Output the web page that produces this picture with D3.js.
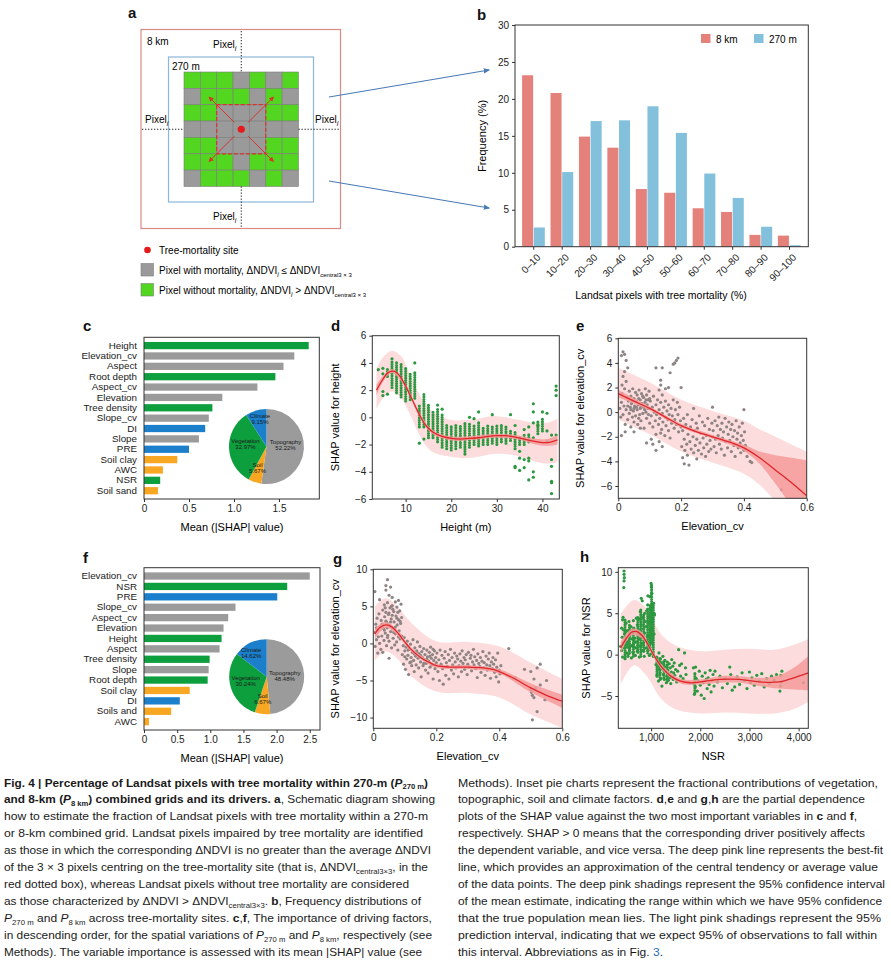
<!DOCTYPE html>
<html>
<head>
<meta charset="utf-8">
<script src="https://cdn.jsdelivr.net/npm/d3@7"></script>
<style>
body { margin: 0; background: #fff; }
svg { display: block; font-family: "Liberation Sans", Arial, sans-serif; }
.tick text { font-size: 10px; fill: #222; }
.domain, .tick line { stroke: #333; }
</style>
</head>
<body>
<svg id="fig" width="891" height="962"></svg>
<script>
// ---------- panel a: 7x7 pixel grid (1 = mortality / grey, 0 = green)
const gridRows = [
  [0,0,0,1,0,1,0],
  [1,0,0,0,1,0,1],
  [0,0,1,1,1,0,0],
  [1,1,1,1,1,1,1],
  [0,0,1,1,1,0,0],
  [0,0,0,1,0,0,0],
  [1,0,0,0,1,0,1]
];

// ---------- panel b: frequency distributions
const binLabels = ["0–10","10–20","20–30","30–40","40–50","50–60","60–70","70–80","80–90","90–100"];
const freq8km  = [23.2, 20.8, 14.9, 13.4, 7.8, 7.3, 5.2, 4.7, 1.6, 1.5];
const freq270m = [2.6, 10.1, 17.0, 17.1, 19.0, 15.4, 9.9, 6.6, 2.7, 0.2];

// ---------- panels c, f: mean |SHAP|
const catC = ["Height","Elevation_cv","Aspect","Root depth","Aspect_cv","Elevation","Tree density","Slope_cv","DI","Slope","PRE","Soil clay","AWC","NSR","Soil sand"];
const shapC = [1.83, 1.67, 1.55, 1.46, 1.26, 0.87, 0.76, 0.72, 0.68, 0.61, 0.50, 0.37, 0.21, 0.18, 0.155];
const groupC = ["veg","topo","topo","veg","topo","topo","veg","topo","clim","topo","clim","soil","soil","veg","soil"];
const catF = ["Elevation_cv","NSR","PRE","Slope_cv","Aspect_cv","Elevation","Height","Aspect","Tree density","Slope","Root depth","Soil clay","DI","Soils and","AWC"];
const shapF = [2.50, 2.16, 2.01, 1.38, 1.27, 1.20, 1.17, 1.14, 0.99, 0.975, 0.96, 0.69, 0.54, 0.41, 0.075];
const groupF = ["topo","veg","clim","topo","topo","topo","veg","topo","veg","topo","veg","soil","clim","soil","soil"];
const pieGroups = ["Topography","Soil","Vegetation","Climate"];
const pieKeys = ["topo","soil","veg","clim"];
const pieC = [52.22, 5.67, 32.97, 9.15];
const pieF = [48.48, 6.67, 30.24, 14.62];

// ---------- panel d: SHAP vs height
const dColumns = [
  [6,3.0,3.6],[7,2.2,4.2],[8,1.8,4.1],[9,1.5,3.9],[10,1.2,3.7],[11,1.3,3.3],[12,1.4,3.4],
  [13,-0.7,0.9],[14,-0.7,1.7],[15,-1.5,1.0],[16,-1.5,0.5],[17,-1.8,0.7],[18,-2.2,0.2],
  [19,-2.3,-0.5],[20,-2.4,-0.6],[21,-2.3,-0.5],[22,-2.2,-0.6],[23,-2.5,-0.4],[24,-2.2,-0.4],
  [25,-2.0,-0.5],[26,-2.1,-0.4],[27,-2.0,-0.7],[28,-2.0,-0.6],[29,-1.9,-0.6],[30,-2.0,-0.5],
  [31,-1.8,-0.6],[32,-1.9,-0.7],[33,-1.7,-0.9],[34,-2.3,-1.0],[35,-2.0,-1.4],[36,-2.0,-1.2],
  [37,-1.8,-1.2],[39,-1.2,-0.2],[40,-1.0,-0.1]
];
const dPoints = [
  [4,3.5],[5,3.6],[5,3.2],[5,1.9],[5,1.6],[6,1.7],[7,4.3],[12,4.0],[13,-1.9],[14,-1.6],
  [17,0.9],[18,0.6],[24,0.0],[25,-0.1],[26,0.4],[23,-2.7],[29,0.2],[33,0.2],[34,-0.6],
  [34,-3.6],[34,-3.7],[35,-2.5],[35,-3.0],[35,-3.9],[36,-3.1],[36,-3.7],[37,-3.0],[37,-3.2],
  [37,-4.6],[38,1.0],[38,0.4],[38,-0.4],[38,-4.0],[38,-4.4],[38,-1.5],[39,-0.6],[40,0.4],
  [41,0.3],[41,-1.8],[41,-1.0],[42,-1.3],[42,-3.1],[42,-3.6],[42,-4.7],[42,-4.8],[42,-5.6],
  [43,2.3],[43,2.0],[43,1.6],[43,-1.3],[36,-0.9],[37,-0.7]
];
const dFit = [[3.6,2.0],[5,2.8],[6,3.25],[7,3.4],[8,3.3],[9,2.9],[10,2.3],[11,1.6],[12,0.9],[13,0.2],[14,-0.4],[15,-0.8],[16,-1.1],[18,-1.4],[20,-1.55],[22,-1.6],[24,-1.55],[26,-1.5],[28,-1.4],[30,-1.35],[32,-1.35],[34,-1.45],[36,-1.6],[38,-1.75],[40,-1.85],[41,-1.85],[42,-1.8],[43.3,-1.65]];
const dConf = [[3.6,1.6,2.4],[5,2.6,3.0],[7,3.25,3.55],[10,2.15,2.45],[13,0.05,0.35],[16,-1.25,-0.95],[20,-1.7,-1.4],[25,-1.65,-1.35],[30,-1.5,-1.2],[35,-1.65,-1.35],[38,-1.95,-1.55],[41,-2.1,-1.6],[43.3,-2.0,-1.3]];
const dPred = [[3.6,0.6,3.6],[5,1.4,4.4],[7,1.9,4.9],[9,1.4,4.5],[11,0.2,3.1],[13,-1.3,1.7],[15,-2.3,0.7],[17,-2.7,0.2],[20,-2.9,-0.2],[23,-3.0,-0.2],[26,-2.9,-0.1],[29,-2.7,0.1],[32,-2.7,0.0],[35,-2.9,-0.2],[38,-3.2,-0.4],[41,-3.4,-0.4],[43.3,-3.3,-0.1]];

// ---------- panel e: SHAP vs elevation_cv (P270m)
const ePoints = [
  [0.005,0.3],[0.008,-0.4],[0.01,0.8],[0.012,1.5],[0.015,-0.2],[0.018,0.5],[0.02,1.9],[0.022,-1.0],[0.025,0.2],[0.028,1.2],
  [0.03,-0.6],[0.032,0.9],[0.035,1.7],[0.035,-0.1],[0.038,0.4],[0.04,1.3],[0.04,-1.2],[0.042,0.7],[0.045,-0.4],[0.046,1.9],
  [0.048,0.1],[0.05,1.1],[0.05,-0.8],[0.052,0.5],[0.055,1.6],[0.055,-0.3],[0.058,0.9],[0.06,0.2],[0.06,1.4],[0.062,-1.0],
  [0.064,0.6],[0.066,1.8],[0.068,-0.2],[0.07,1.0],[0.07,0.3],[0.072,-0.7],[0.074,1.5],[0.075,0.7],[0.078,-0.1],[0.08,1.2],
  [0.08,0.4],[0.082,-1.3],[0.085,0.8],[0.086,1.9],[0.088,0.0],[0.09,1.4],[0.09,-0.5],[0.092,0.6],[0.095,1.0],[0.096,-0.2],
  [0.098,1.7],[0.1,0.3],[0.1,-0.9],[0.03,0.5],[0.045,0.9],[0.058,0.4],[0.065,1.1],[0.072,0.5],[0.078,1.3],[0.084,0.2],
  [0.088,1.0],[0.094,0.3],[0.065,-0.5],[0.04,0.2],[0.05,0.3],[0.1,1.1],
  [0.01,4.6],[0.015,4.9],[0.02,4.7],[0.025,4.2],[0.03,3.6],[0.02,3.3],[0.015,2.9],[0.012,2.2],[0.025,2.5],[0.01,-1.9],
  [0.022,-1.6],[0.05,-1.6],[0.07,-1.3],[0.09,-2.5],[0.105,-2.2],
  [0.102,0.9],[0.105,-0.3],[0.108,0.4],[0.11,-1.2],[0.112,1.3],[0.115,0.0],[0.118,-0.7],[0.12,0.6],[0.12,-1.8],[0.122,-0.2],
  [0.125,1.0],[0.128,-1.0],[0.13,0.2],[0.13,-2.4],[0.132,-0.5],[0.135,0.8],[0.138,-1.4],[0.14,-0.1],[0.14,1.4],[0.142,-0.8],
  [0.145,0.4],[0.148,-1.9],[0.15,-0.4],[0.15,0.9],[0.152,-1.1],[0.155,0.1],[0.158,-0.6],[0.16,-1.5],[0.16,0.6],[0.162,-0.2],
  [0.165,-2.1],[0.168,0.3],[0.17,-0.9],[0.172,-0.3],[0.175,1.0],[0.178,-1.3],[0.18,-0.6],[0.182,0.2],[0.185,-1.0],[0.188,0.8],
  [0.19,-0.2],[0.192,-1.6],[0.195,0.4],[0.198,-0.7],[0.2,-1.2],[0.12,-3.1],[0.14,-2.8],[0.11,-2.6],[0.135,-1.7],
  [0.12,3.6],[0.14,3.6],[0.135,2.6],[0.135,2.2],[0.13,1.8],[0.175,3.9],[0.18,4.0],[0.185,4.2],[0.19,4.4],[0.165,3.2],
  [0.16,2.0],[0.15,1.9],[0.2,2.0],
  [0.202,-2.8],[0.205,-1.5],[0.205,-3.7],[0.208,-0.5],[0.21,-2.2],[0.21,-4.2],[0.212,-3.1],[0.215,-1.0],[0.218,-2.6],[0.22,-3.5],
  [0.22,-0.2],[0.222,-1.8],[0.225,-4.3],[0.228,-2.4],[0.23,-1.2],[0.232,-3.0],[0.235,-0.6],[0.238,-2.0],[0.24,-3.3],[0.24,0.3],
  [0.242,-1.5],[0.245,-2.7],[0.248,-0.9],[0.25,-3.8],[0.25,-2.2],[0.252,-1.3],[0.255,-3.1],[0.258,-0.3],[0.26,-2.5],[0.262,-1.7],
  [0.265,-3.4],[0.268,-0.8],[0.27,-2.1],[0.272,-2.9],[0.275,-1.1],[0.278,-3.6],[0.28,-1.9],[0.282,-2.6],[0.285,-0.5],[0.288,-3.2],
  [0.29,-1.4],[0.292,-2.3],[0.295,-3.0],[0.298,-0.9],[0.3,-2.0],[0.3,0.4],
  [0.302,-1.5],[0.305,-2.8],[0.308,-0.7],[0.31,-2.2],[0.312,-3.3],[0.315,-1.1],[0.318,-1.9],[0.32,-0.4],[0.322,-2.6],[0.325,-1.4],
  [0.328,-3.0],[0.33,-0.9],[0.332,-2.1],[0.335,-1.6],[0.338,-3.5],[0.34,-0.5],[0.342,-2.4],[0.345,-1.2],[0.348,-2.9],[0.35,-1.8],
  [0.352,-0.8],[0.355,-2.3],[0.358,-1.4],[0.36,-3.2],[0.362,-1.0],[0.365,-2.0],[0.368,-2.7],[0.37,-1.5],[0.372,-3.6],[0.375,-0.7],
  [0.378,-2.2],[0.38,-1.7],[0.382,-2.9],[0.385,-1.2],[0.388,-2.5],[0.39,-3.3],[0.392,-1.9],[0.395,-0.9],[0.398,-2.3],[0.4,0.2],
  [0.4,-3.1],[0.402,-1.6],[0.405,-2.7],[0.41,-3.6],[0.42,-4.0],[0.425,-4.1],[0.52,-6.3]
];
const eFit = [[0,1.5],[0.05,0.9],[0.1,0.3],[0.15,-0.4],[0.2,-1.1],[0.25,-1.6],[0.3,-2.0],[0.35,-2.4],[0.4,-2.9],[0.45,-3.7],[0.5,-4.7],[0.55,-5.7],[0.6,-6.8]];
const eConf = [[0,1.2,1.8],[0.1,0.15,0.45],[0.2,-1.25,-0.95],[0.3,-2.15,-1.85],[0.4,-3.15,-2.65],[0.45,-4.2,-3.2],[0.5,-5.8,-3.5],[0.55,-7.6,-3.7],[0.6,-9.5,-3.9]];
const ePred = [[0,-0.6,3.6],[0.1,-1.8,2.4],[0.2,-3.2,1.0],[0.3,-4.1,0.1],[0.4,-5.0,-0.7],[0.45,-5.9,-1.4],[0.5,-7.2,-2.0],[0.55,-8.5,-2.6],[0.6,-10,-3.2]];

// ---------- panel g: SHAP vs elevation_cv (P8km)
const gPoints = [
  [0.003,1.5],[0.005,7.0],[0.006,-0.4],[0.008,2.6],[0.01,0.5],[0.012,3.4],[0.014,-1.3],[0.015,1.8],[0.018,4.0],[0.02,0.0],
  [0.02,5.9],[0.022,2.3],[0.024,-0.8],[0.025,3.1],[0.027,1.0],[0.03,4.5],[0.03,-1.2],[0.032,2.0],[0.034,0.4],[0.035,5.2],
  [0.036,3.6],[0.038,1.4],[0.04,7.2],[0.04,7.8],[0.04,4.2],[0.042,-0.3],[0.043,2.8],[0.045,8.6],[0.045,5.5],[0.046,1.1],
  [0.048,3.9],[0.05,0.3],[0.05,6.5],[0.05,-2.0],[0.052,2.4],[0.053,4.8],[0.055,7.6],[0.055,1.6],[0.057,3.3],[0.058,-0.6],
  [0.06,5.1],[0.06,6.2],[0.062,2.0],[0.063,0.7],[0.065,4.3],[0.066,2.9],[0.068,-0.2],[0.07,5.6],[0.07,1.3],[0.072,3.7],
  [0.074,0.2],[0.075,4.9],[0.076,2.5],[0.078,-0.9],[0.08,3.2],[0.08,5.8],[0.082,1.7],[0.084,4.4],[0.085,0.6],[0.087,2.7],
  [0.088,5.3],[0.09,1.0],[0.09,3.5],
  [0.035,1.8],[0.04,3.0],[0.045,0.8],[0.05,4.1],[0.055,2.9],[0.06,3.8],[0.065,1.5],[0.07,2.2],[0.075,3.4],[0.08,0.9],
  [0.085,3.0],[0.044,2.1],[0.062,4.6],[0.078,4.2],[0.058,5.0],[0.038,4.8],[0.028,2.6],[0.016,0.9],[0.01,2.1],
  [0.092,-1.5],[0.095,-0.3],[0.096,-2.8],[0.098,0.8],[0.1,-1.0],[0.102,-3.5],[0.104,-0.5],[0.106,-2.1],[0.108,0.3],[0.11,-1.6],
  [0.112,-4.2],[0.114,-0.8],[0.116,-2.6],[0.118,-0.1],[0.12,-1.9],[0.122,-3.0],[0.124,-1.2],[0.126,0.5],[0.128,-2.3],[0.13,-3.8],
  [0.132,-0.6],[0.134,-1.7],[0.136,-2.9],[0.138,-1.0],[0.14,0.2],[0.142,-2.0],[0.144,-3.3],[0.146,-1.4],[0.148,-0.4],[0.15,-2.5],
  [0.152,-4.5],[0.154,-1.1],[0.156,-1.9],[0.158,-3.0],[0.16,-0.7],[0.162,-2.2],[0.164,-1.5],[0.166,-3.6],[0.168,-2.7],[0.17,-0.9],
  [0.172,-1.8],[0.174,-4.0],[0.176,-2.4],[0.178,-1.2],[0.18,-3.2],[0.182,-0.5],[0.184,-2.0],[0.186,-2.9],[0.188,-1.5],[0.19,-4.8],
  [0.192,-2.3],[0.194,-1.0],[0.196,-3.4],[0.198,-1.9],[0.2,-2.6],
  [0.1,-1.8],[0.12,-2.5],[0.14,-1.3],[0.16,-2.7],[0.18,-1.7],[0.11,-0.9],[0.13,-1.4],[0.15,-1.6],[0.17,-2.1],[0.19,-0.8],
  [0.202,-1.3],[0.205,-3.8],[0.208,-2.2],[0.21,-5.0],[0.212,-0.9],[0.215,-2.8],[0.218,-1.6],[0.22,-3.4],[0.222,-5.5],[0.225,-2.0],
  [0.228,-1.1],[0.23,-4.3],[0.232,-2.6],[0.235,-3.1],[0.238,-1.5],[0.24,-4.8],[0.242,-2.3],[0.245,-0.8],[0.248,-3.6],[0.25,-1.9],
  [0.252,-2.9],[0.255,-4.1],[0.258,-1.3],[0.26,-2.5],[0.262,-3.3],[0.265,-1.7],[0.268,-2.1],[0.27,-4.5],[0.272,-3.0],[0.275,-1.4],
  [0.278,-2.4],[0.28,-3.8],[0.282,-1.0],[0.285,-2.7],[0.288,-1.9],[0.29,-3.5],[0.292,-2.2],[0.295,-1.5],[0.298,-4.2],[0.3,-2.8],
  [0.302,-1.2],[0.305,-3.2],[0.308,-2.0],[0.31,-1.6],[0.312,-3.7],[0.315,-2.5],[0.318,-0.8],[0.32,-2.9],[0.322,-1.8],[0.325,-3.4],
  [0.328,-2.3],[0.33,-4.6],[0.332,-1.4],[0.335,-2.7],[0.338,-3.1],[0.34,-1.9],[0.342,-3.9],[0.345,-2.4],[0.348,-1.1],[0.35,-3.3],
  [0.352,-2.6],[0.355,-4.3],[0.358,-1.7],[0.36,-2.9],[0.362,-3.6],[0.365,-2.1],[0.368,-1.3],[0.37,-3.0],[0.372,-4.7],[0.375,-2.5],
  [0.378,-3.4],[0.38,-1.9],[0.382,-2.8],[0.385,-3.9],[0.388,-2.2],[0.39,-4.5],[0.392,-3.2],[0.395,-1.3],[0.398,-5.2],[0.4,-3.6],
  [0.402,-4.1],[0.405,-3.0],
  [0.43,-0.7],[0.45,-4.6],[0.48,-3.5],[0.5,-3.8],[0.52,-3.3],[0.53,-2.8],[0.51,-4.8],[0.55,-5.0],[0.5,-6.2],[0.502,-6.6],
  [0.505,-7.0],[0.51,-7.3],[0.52,-9.2],[0.505,-10.3],[0.545,-7.6],[0.53,-5.6],[0.515,-6.0]
];
const gFit = [[0.005,1.3],[0.02,2.1],[0.04,2.5],[0.06,2.2],[0.08,1.3],[0.1,0.2],[0.12,-0.8],[0.15,-1.9],[0.18,-2.6],[0.2,-3.0],[0.25,-3.2],[0.3,-3.2],[0.35,-3.3],[0.38,-3.5],[0.4,-3.8],[0.45,-4.8],[0.5,-6.0],[0.55,-7.0],[0.6,-7.8]];
const gConf = [[0.005,0.6,2.0],[0.04,2.1,2.9],[0.08,0.95,1.65],[0.12,-1.1,-0.5],[0.2,-3.25,-2.75],[0.3,-3.45,-2.95],[0.4,-4.1,-3.5],[0.5,-6.6,-5.4],[0.6,-8.7,-6.9]];
const gPred = [[0.005,-2.3,5.0],[0.04,-1.1,6.1],[0.08,-2.2,4.8],[0.12,-4.4,2.8],[0.2,-6.5,0.3],[0.3,-6.7,0.2],[0.4,-7.3,-0.4],[0.5,-9.6,-2.6],[0.6,-11.4,-4.8]];

// ---------- panel h: SHAP vs NSR
const hColumns = [
  [470,-0.3,4.2],[560,0.2,3.6],[640,-0.2,3.4],[730,0.3,4.6],[790,-0.2,5.4],[850,0.6,4.8],
  [930,0.2,5.6],[980,0.9,6.2],[1010,1.4,8.4],[1045,-0.2,6.0],[1120,-2.6,-0.2],[1180,-3.0,-0.4],
  [1260,-2.8,-0.6],[1330,-3.2,-1.0],[1890,-4.6,-2.4]
];
const hPoints = [
  [450,10.1],[450,9.7],[455,9.3],[450,8.9],[445,8.1],[400,3.2],[380,1.0],[420,4.2],[430,4.5],
  [400,0.5],[410,2.1],[420,-0.3],[430,1.4],[440,3.0],[450,0.8],[460,2.5],[470,-0.5],[480,1.8],[490,3.8],
  [500,0.2],[510,1.2],[520,2.9],[530,-0.2],[540,1.6],[550,4.0],[560,0.6],[570,2.3],[580,1.0],[590,3.4],
  [600,-0.4],[610,1.9],[620,2.7],[630,0.3],[640,1.3],[650,3.2],[660,0.9],[670,2.0],[680,-0.1],[690,1.5],
  [700,4.4],[710,2.6],[720,0.4],[730,1.1],[740,3.0],[750,1.9],[760,-0.3],[770,2.4],[780,5.2],[790,1.0],
  [800,6.8],[800,3.6],[810,0.5],[820,2.1],[820,6.5],[830,4.5],[840,1.4],[850,3.1],[860,-0.2],[870,2.6],
  [880,4.0],[890,0.8],[900,1.7],[900,3.4],
  [500,1.5],[550,2.0],[600,1.1],[650,1.7],[700,0.8],[750,2.8],[800,1.2],[850,0.4],[580,3.0],[720,3.6],
  [640,4.1],[760,4.3],[870,5.0],[520,0.9],[480,2.7],[540,0.1],
  [910,5.3],[920,2.2],[930,6.0],[940,0.5],[950,3.8],[960,1.4],[970,4.6],[975,7.0],[980,2.7],[990,5.5],
  [1000,0.1],[1000,8.6],[1005,8.2],[1010,3.2],[1015,7.4],[1020,1.8],[1030,5.8],[1040,4.3],[1050,-0.2],[1060,5.0],
  [1060,2.5],[1070,4.8],[1050,6.2],[935,7.1],[990,3.0],[1025,4.0],[955,2.3],[965,-0.1],
  [1100,-1.2],[1110,-0.3],[1120,-2.5],[1130,-0.8],[1140,-1.8],[1150,-3.2],[1160,0.2],[1170,-1.4],[1180,-2.2],[1190,-0.5],
  [1200,-2.9],[1210,-1.0],[1220,-3.8],[1230,-1.7],[1240,-0.2],[1250,-2.4],[1260,-1.2],[1270,-3.0],[1280,-0.7],[1290,-2.0],
  [1300,-1.5],[1310,-3.4],[1320,-2.6],[1330,-0.9],[1340,-1.9],[1350,-3.1],[1360,-2.3],[1370,-1.1],[1380,-2.8],[1390,-1.6],
  [1400,-3.5],[1410,-2.1],[1420,-0.6],[1430,-2.7],[1440,-1.4],[1450,-3.0],[1460,-2.2],[1470,-1.0],[1480,-2.5],[1500,-1.8],
  [1520,-3.3],[1540,-2.0],[1560,0.6],[1580,-1.3],[1600,-2.6],[1620,-1.1],[1650,-2.9],[1680,0.2],[1700,-1.6],[1710,-2.4],
  [1860,-1.6],[1870,-3.5],[1880,-4.8],[1890,-2.3],[1900,-3.9],[1905,-1.5],[1920,-2.9],[1940,-4.4],[1960,-3.2],[1980,-2.0],
  [2000,-3.7],[2020,-4.9],[2040,-2.6],[2060,-3.4],[2080,-5.3],[2100,-2.2],[2120,-3.0],[2140,-4.1],[2160,-2.8],[2180,-3.6],
  [2200,-1.9],[2220,-4.5],[2240,-3.1],[2260,-2.4],[2280,-3.8],[2300,-2.0],
  [2350,-3.3],[2400,-2.6],[2450,-4.0],[2500,-2.9],[2550,-3.5],[2600,-1.5],[2620,-2.4],[2650,-4.3],[2700,-3.9],[2750,-2.7],
  [2800,-3.6],[2850,-2.2],[2900,-3.1],[2950,-4.1],[3000,-2.1],[3020,-3.4],[3050,-2.8],[3100,-3.7],[3150,-2.5],[3200,-3.2],
  [3250,-2.3],[3300,-3.9],[3350,-2.9],[3400,-3.5],[3450,-2.6],[3500,-3.1],[3550,-2.4],[3620,-4.4],[3630,-3.8],[3640,-2.5],
  [3650,-3.3],[3660,-2.0],[4100,-3.4]
];
const hFit = [[380,0.8],[500,2.0],[600,2.7],[700,2.8],[800,2.4],[900,1.6],[1000,0.5],[1100,-0.5],[1200,-1.4],[1400,-2.6],[1600,-3.2],[1800,-3.4],[2000,-3.3],[2400,-3.0],[2800,-3.0],[3200,-3.3],[3600,-3.3],[3800,-3.0],[4000,-2.6],[4200,-2.2]];
const hConf = [[380,0.1,1.5],[600,2.3,3.1],[800,2.0,2.8],[1000,0.2,0.8],[1200,-1.7,-1.1],[1600,-3.5,-2.9],[2000,-3.6,-3.0],[2400,-3.4,-2.6],[2800,-3.4,-2.6],[3200,-3.8,-2.8],[3600,-4.1,-2.5],[3900,-4.2,-1.6],[4200,-4.3,-0.2]];
const hPred = [[380,-3.6,4.9],[650,-1.3,6.6],[900,-2.5,5.6],[1200,-5.3,2.5],[1500,-6.6,1.1],[2000,-7.1,0.4],[2500,-7.0,0.6],[3000,-7.1,0.7],[3500,-7.1,0.6],[3900,-6.6,1.2],[4200,-5.7,1.9]];

// ---------- caption lines (segments: t text, b bold, i italic, s subscript, c colour)
const captionLeft = [
  [{t:"Fig. 4 | Percentage of Landsat pixels with tree mortality within 270-m (",b:1},{t:"P",b:1,i:1},{t:"270 m",b:1,s:1},{t:")",b:1}],
  [{t:"and 8-km (",b:1},{t:"P",b:1,i:1},{t:"8 km",b:1,s:1},{t:") combined grids and its drivers. a",b:1},{t:", Schematic diagram showing"}],
  [{t:"how to estimate the fraction of Landsat pixels with tree mortality within a 270-m"}],
  [{t:"or 8-km combined grid. Landsat pixels impaired by tree mortality are identified"}],
  [{t:"as those in which the corresponding ΔNDVI is no greater than the average ΔNDVI"}],
  [{t:"of the 3 × 3 pixels centring on the tree-mortality site (that is, ΔNDVI"},{t:"central3×3",s:1},{t:", in the"}],
  [{t:"red dotted box), whereas Landsat pixels without tree mortality are considered"}],
  [{t:"as those characterized by ΔNDVI > ΔNDVI"},{t:"central3×3",s:1},{t:". "},{t:"b",b:1},{t:", Frequency distributions of"}],
  [{t:"P",i:1},{t:"270 m",s:1},{t:" and "},{t:"P",i:1},{t:"8 km",s:1},{t:" across tree-mortality sites. "},{t:"c",b:1},{t:","},{t:"f",b:1},{t:", The importance of driving factors,"}],
  [{t:"in descending order, for the spatial variations of "},{t:"P",i:1},{t:"270 m",s:1},{t:" and "},{t:"P",i:1},{t:"8 km",s:1},{t:", respectively (see"}],
  [{t:"Methods). The variable importance is assessed with its mean |SHAP| value (see"}]
];
const captionLeftEnd = [428, 435, 428, 423, 431, 428, 409, 421, 432, 432, 422];
const captionRight = [
  [{t:"Methods). Inset pie charts represent the fractional contributions of vegetation,"}],
  [{t:"topographic, soil and climate factors. "},{t:"d",b:1},{t:","},{t:"e",b:1},{t:" and "},{t:"g",b:1},{t:","},{t:"h",b:1},{t:" are the partial dependence"}],
  [{t:"plots of the SHAP value against the two most important variables in "},{t:"c",b:1},{t:" and "},{t:"f",b:1},{t:","}],
  [{t:"respectively. SHAP > 0 means that the corresponding driver positively affects"}],
  [{t:"the dependent variable, and vice versa. The deep pink line represents the best-fit"}],
  [{t:"line, which provides an approximation of the central tendency or average value"}],
  [{t:"of the data points. The deep pink shadings represent the 95% confidence interval"}],
  [{t:"of the mean estimate, indicating the range within which we have 95% confidence"}],
  [{t:"that the true population mean lies. The light pink shadings represent the 95%"}],
  [{t:"prediction interval, indicating that we expect 95% of observations to fall within"}],
  [{t:"this interval. Abbreviations as in Fig. "},{t:"3",c:"#2a6ebb"},{t:"."}]
];
const captionRightEnd = [878, 865, 857, 865, 883, 878, 885, 882, 881, 877, 663];

// ---------- colours
const groupColor = {veg: "#0d9e3e", topo: "#9b9b9b", clim: "#1b7fcb", soil: "#f8a723"};
const red8 = "#e5817b", blue270 = "#82c0dc";
const greenPt = "#2b983f", greyPt = "#8f8484";
const fitRed = "#e0262a", confPink = "#f59a9a", predPink = "#fcdcdc";

const svg = d3.select("#fig");

function panelLabel(t, x, y) {
  svg.append("text").attr("x", x).attr("y", y).text(t)
    .style("font-weight", "bold").style("font-size", "15px").style("fill", "#111");
}

// ================= panel a =================
panelLabel("a", 128, 18);
svg.append("rect").attr("x", 141).attr("y", 29.5).attr("width", 199.5).attr("height", 199)
  .attr("fill", "none").attr("stroke", "#d98a85").attr("stroke-width", 1.2);
svg.append("rect").attr("x", 168.5).attr("y", 57).attr("width", 145).attr("height", 145)
  .attr("fill", "none").attr("stroke", "#8db7d8").attr("stroke-width", 1.2);
svg.append("text").attr("x", 147).attr("y", 45).text("8 km").style("font-size", "10px");
svg.append("text").attr("x", 172).attr("y", 70).text("270 m").style("font-size", "10px");

const gx = d3.scaleBand().domain(d3.range(7)).range([184, 298.5]);
const gy = d3.scaleBand().domain(d3.range(7)).range([72, 186.5]);
const cells = [];
gridRows.forEach((row, r) => row.forEach((v, c) => cells.push({r, c, v})));
svg.append("g").selectAll("rect").data(cells).join("rect")
  .attr("x", d => gx(d.c)).attr("y", d => gy(d.r))
  .attr("width", gx.bandwidth()).attr("height", gy.bandwidth())
  .attr("fill", d => d.v ? "#9a9a9a" : "#52d61f")
  .attr("stroke", "#7d7d7d").attr("stroke-width", 0.6);

// dotted pixel lines
const cx0 = gx(3) + gx.bandwidth() / 2, cy0 = gy(3) + gy.bandwidth() / 2;
const dotted = [[cx0, 31, cx0, 72], [cx0, 186.5, cx0, 228], [142, cy0, 184, cy0], [298.5, cy0, 340, cy0]];
svg.append("g").selectAll("line").data(dotted).join("line")
  .attr("x1", d => d[0]).attr("y1", d => d[1]).attr("x2", d => d[2]).attr("y2", d => d[3])
  .attr("stroke", "#222").attr("stroke-width", 1).attr("stroke-dasharray", "1.3,1.7");

function pixelLabel(x, y) {
  const t = svg.append("text").attr("x", x).attr("y", y).style("font-size", "10px");
  t.append("tspan").text("Pixel");
  t.append("tspan").text("i").attr("dy", 2.5).style("font-size", "7px").style("font-style", "italic");
}
pixelLabel(213, 48);
pixelLabel(145, 123);
pixelLabel(315, 123);
pixelLabel(213, 220);

// central 3x3 dashed box and arrows
svg.append("rect").attr("x", gx(2)).attr("y", gy(2)).attr("width", gx.bandwidth() * 3).attr("height", gy.bandwidth() * 3)
  .attr("fill", "none").attr("stroke", "#d9342a").attr("stroke-width", 1.2).attr("stroke-dasharray", "4,2");
svg.append("defs").html(
  '<marker id="ahr" viewBox="0 0 10 10" refX="8" refY="5" markerWidth="5" markerHeight="5" orient="auto"><path d="M0,0L10,5L0,10z" fill="#d9342a"/></marker>' +
  '<marker id="ahb" viewBox="0 0 10 10" refX="8" refY="5" markerWidth="6" markerHeight="6" orient="auto"><path d="M0,1L10,5L0,9z" fill="#4a7bb6"/></marker>');
[[-1,-1],[1,-1],[-1,1],[1,1]].forEach(([sx, sy]) => {
  svg.append("line").attr("x1", cx0 + sx * 7).attr("y1", cy0 + sy * 7)
    .attr("x2", cx0 + sx * 32).attr("y2", cy0 + sy * 32)
    .attr("stroke", "#d9342a").attr("stroke-width", 1).attr("marker-end", "url(#ahr)");
});
svg.append("circle").attr("cx", cx0).attr("cy", cy0).attr("r", 3.6).attr("fill", "#e41a1c");

// legend of panel a
svg.append("circle").attr("cx", 147.5).attr("cy", 250).attr("r", 3.3).attr("fill", "#e41a1c");
svg.append("text").attr("x", 159).attr("y", 254).text("Tree-mortality site").style("font-size", "10px");
svg.append("rect").attr("x", 141).attr("y", 263.5).attr("width", 12.5).attr("height", 12.5).attr("fill", "#9a9a9a").attr("stroke", "#7d7d7d").attr("stroke-width", 0.6);
svg.append("rect").attr("x", 141).attr("y", 283.5).attr("width", 12.5).attr("height", 12.5).attr("fill", "#52d61f").attr("stroke", "#7d7d7d").attr("stroke-width", 0.6);
function legendLine(y, main, op) {
  const t = svg.append("text").attr("x", 159).attr("y", y).style("font-size", "10px");
  t.append("tspan").text(main + ", ΔNDVI");
  t.append("tspan").text("i").attr("dy", 2.5).style("font-size", "6.5px").style("font-style", "italic");
  t.append("tspan").text(" " + op + " ΔNDVI").attr("dy", -2.5);
  t.append("tspan").text("central3 × 3").attr("dy", 2.5).style("font-size", "6px");
}
legendLine(274, "Pixel with mortality", "≤");
legendLine(294, "Pixel without mortality", ">");

// blue arrows to panel b
[[329, 97, 489, 70], [329, 181, 489, 208]].forEach(a => {
  svg.append("line").attr("x1", a[0]).attr("y1", a[1]).attr("x2", a[2]).attr("y2", a[3])
    .attr("stroke", "#4a7bb6").attr("stroke-width", 1.1).attr("marker-end", "url(#ahb)");
});

// ================= panel b =================
panelLabel("b", 477, 20);
const bx = d3.scaleBand().domain(binLabels).range([515, 808.3]).paddingInner(0.18).paddingOuter(0.25);
const bsub = d3.scaleBand().domain(["8 km", "270 m"]).range([0, bx.bandwidth()]);
const by = d3.scaleLinear().domain([0, 30]).range([246.7, 25]);
const bData = binLabels.map((b, i) => ({b, v: [["8 km", freq8km[i]], ["270 m", freq270m[i]]]}));
svg.append("g").selectAll("g").data(bData).join("g")
  .attr("transform", d => `translate(${bx(d.b)},0)`)
  .selectAll("rect").data(d => d.v).join("rect")
  .attr("x", d => bsub(d[0])).attr("width", bsub.bandwidth() - 0.6)
  .attr("y", d => by(d[1])).attr("height", d => by(0) - by(d[1]))
  .attr("fill", d => d[0] === "8 km" ? red8 : blue270);
svg.append("rect").attr("x", 515).attr("y", 25).attr("width", 293.3).attr("height", 221.7)
  .attr("fill", "none").attr("stroke", "#333").attr("stroke-width", 1);
svg.append("g").attr("transform", "translate(515,0)")
  .call(d3.axisLeft(by).tickValues([0, 5, 10, 15, 20, 25, 30]).tickSize(3).tickPadding(3))
  .call(g => g.select(".domain").remove());
svg.append("g").attr("transform", "translate(0,246.7)")
  .call(d3.axisBottom(bx).tickSize(3))
  .call(g => g.select(".domain").remove())
  .call(g => g.selectAll(".tick text").attr("x", 0).attr("y", 0).attr("dy", "0.35em")
    .attr("transform", "translate(5,9) rotate(-45)").style("text-anchor", "end"));
svg.append("text").attr("transform", "translate(486,136) rotate(-90)").attr("text-anchor", "middle")
  .text("Frequency (%)").style("font-size", "11px");
svg.append("text").attr("x", 661).attr("y", 299).attr("text-anchor", "middle")
  .text("Landsat pixels with tree mortality (%)").style("font-size", "10.5px");
// legend b
[["8 km", red8, 701], ["270 m", blue270, 754]].forEach(l => {
  svg.append("rect").attr("x", l[2]).attr("y", 34).attr("width", 9.5).attr("height", 9).attr("fill", l[1]);
  svg.append("text").attr("x", l[2] + 15).attr("y", 42.5).text(l[0]).style("font-size", "10px");
});

// ================= panels c, f =================
function importancePanel(opt) {
  const x = d3.scaleLinear().domain([0, opt.xmax]).range([144, opt.right]);
  const y = d3.scaleBand().domain(opt.cats).range([opt.top, opt.bottom]).paddingInner(0.3).paddingOuter(0.45);
  svg.append("g").selectAll("rect").data(opt.cats).join("rect")
    .attr("x", x(0)).attr("y", d => y(d)).attr("height", y.bandwidth())
    .attr("width", (d, i) => x(opt.vals[i]) - x(0))
    .attr("fill", (d, i) => groupColor[opt.groups[i]]);
  svg.append("rect").attr("x", 144).attr("y", opt.top).attr("width", opt.right - 144).attr("height", opt.bottom - opt.top)
    .attr("fill", "none").attr("stroke", "#333").attr("stroke-width", 1);
  svg.append("g").attr("transform", `translate(144,0)`)
    .call(d3.axisLeft(y).tickSize(0).tickPadding(7))
    .call(g => g.select(".domain").remove())
    .call(g => g.selectAll(".tick text").style("font-size", "9.8px"));
  svg.append("g").attr("transform", `translate(0,${opt.bottom})`)
    .call(d3.axisBottom(x).tickValues(opt.ticks).tickSize(3).tickPadding(3)
      .tickFormat(d => d === 0 ? "0" : d3.format(".1f")(d)))
    .call(g => g.select(".domain").remove());
  svg.append("text").attr("x", 232).attr("y", opt.bottom + 32).attr("text-anchor", "middle")
    .text("Mean (|SHAP| value)").style("font-size", "11px");

  // inset pie
  const pie = d3.pie().sort(null).value(d => d.v);
  const arc = d3.arc().innerRadius(0).outerRadius(37.5);
  const pdata = pie(pieKeys.map((k, i) => ({k, v: opt.pie[i], name: pieGroups[i]})));
  const pg = svg.append("g").attr("transform", `translate(${opt.pcx},${opt.pcy})`);
  pg.selectAll("path").data(pdata).join("path").attr("d", arc)
    .attr("fill", d => groupColor[d.data.k]);
  pg.selectAll("text").data(pdata).join("text")
    .attr("transform", (d, i) => `translate(${opt.plab[i][0]},${opt.plab[i][1]})`)
    .attr("text-anchor", "middle").style("font-size", "6px").style("fill", "#1a1a1a")
    .each(function(d) {
      const t = d3.select(this);
      t.append("tspan").attr("x", 0).attr("dy", 0).text(d.data.name);
      t.append("tspan").attr("x", 0).attr("dy", "1.1em").text(d3.format(".2f")(d.data.v) + "%");
    });
}
panelLabel("c", 83, 331);
importancePanel({
  cats: catC, vals: shapC, groups: groupC, xmax: (319.3 - 144) / 90, right: 319.3,
  top: 337.3, bottom: 499, ticks: [0, 0.5, 1.0, 1.5], pie: pieC, pcx: 266.5, pcy: 446.5,
  plab: [[19, -3], [-9, 20], [-21, -4], [-6.5, -29]]
});
panelLabel("f", 83, 563);
importancePanel({
  cats: catF, vals: shapF, groups: groupF, xmax: (320 - 144) / 66.3, right: 320,
  top: 567.7, bottom: 730, ticks: [0, 0.5, 1.0, 1.5, 2.0, 2.5], pie: pieF, pcx: 266.7, pcy: 676.7,
  plab: [[18, -2], [-4, 21], [-21, 3], [-15.5, -25]]
});

// ================= panels d, e, g, h =================
function dependencePanel(opt) {
  const x = d3.scaleLinear().domain(opt.xd).range([opt.x0, opt.x1]);
  const y = d3.scaleLinear().domain(opt.yd).range([opt.y1, opt.y0]);
  const id = "clip" + opt.key;
  svg.append("clipPath").attr("id", id).append("rect")
    .attr("x", opt.x0).attr("y", opt.y0).attr("width", opt.x1 - opt.x0).attr("height", opt.y1 - opt.y0);
  const g = svg.append("g").attr("clip-path", `url(#${id})`);
  const band = d3.area().x(d => x(d[0])).y0(d => y(d[1])).y1(d => y(d[2])).curve(d3.curveCatmullRom);
  g.append("path").datum(opt.pred).attr("d", band).attr("fill", predPink);
  if (opt.cols) {
    // dense columns of observations drawn as dotted strips
    g.append("g").selectAll("line").data(opt.cols).join("line")
      .attr("x1", d => x(d[0])).attr("x2", d => x(d[0]))
      .attr("y1", d => y(d[1])).attr("y2", d => y(d[2]))
      .attr("stroke", opt.color).attr("stroke-width", 3.1).attr("stroke-linecap", "round")
      .attr("stroke-dasharray", "0.01,2.3");
  }
  g.append("g").selectAll("circle").data(opt.pts).join("circle")
    .attr("cx", d => x(d[0])).attr("cy", d => y(d[1])).attr("r", 1.6).attr("fill", opt.color);
  g.append("path").datum(opt.conf).attr("d", band).attr("fill", confPink).attr("opacity", 0.85);
  g.append("path").datum(opt.fit)
    .attr("d", d3.line().x(d => x(d[0])).y(d => y(d[1])).curve(d3.curveCatmullRom))
    .attr("fill", "none").attr("stroke", fitRed).attr("stroke-width", 1.3);
  svg.append("rect").attr("x", opt.x0).attr("y", opt.y0).attr("width", opt.x1 - opt.x0).attr("height", opt.y1 - opt.y0)
    .attr("fill", "none").attr("stroke", "#333").attr("stroke-width", 1);
  svg.append("g").attr("transform", `translate(${opt.x0},0)`)
    .call(d3.axisLeft(y).tickValues(opt.yt).tickSize(3).tickPadding(3))
    .call(g => g.select(".domain").remove());
  svg.append("g").attr("transform", `translate(0,${opt.y1})`)
    .call(d3.axisBottom(x).tickValues(opt.xt).tickSize(3).tickPadding(3).tickFormat(opt.xf || null))
    .call(g => g.select(".domain").remove());
  svg.append("text").attr("transform", `translate(${opt.ylx},${(opt.y0 + opt.y1) / 2}) rotate(-90)`)
    .attr("text-anchor", "middle").text(opt.ylab).style("font-size", "11px");
  svg.append("text").attr("x", (opt.x0 + opt.x1) / 2).attr("y", opt.y1 + 32)
    .attr("text-anchor", "middle").text(opt.xlab).style("font-size", "11px");
}
panelLabel("d", 331, 331);
dependencePanel({
  key: "d", x0: 372.3, x1: 559.3, y0: 335.7, y1: 499, xd: [2.68, 43.7], yd: [-6, 6],
  xt: [10, 20, 30, 40], yt: [-6, -4, -2, 0, 2, 4, 6], pts: dPoints, cols: dColumns, color: greenPt,
  fit: dFit, conf: dConf, pred: dPred, ylab: "SHAP value for height", xlab: "Height (m)", ylx: 339
});
panelLabel("e", 576, 331);
dependencePanel({
  key: "e", x0: 618.3, x1: 806.7, y0: 338.3, y1: 498.3, xd: [0, 0.6], yd: [-7, 6],
  xt: [0, 0.2, 0.4, 0.6], yt: [-6, -4, -2, 0, 2, 4, 6], pts: ePoints, color: greyPt,
  fit: eFit, conf: eConf, pred: ePred, ylab: "SHAP value for elevation_cv", xlab: "Elevation_cv", ylx: 584,
  xf: d => d === 0 ? "0" : d3.format(".1f")(d)
});
panelLabel("g", 333, 564);
dependencePanel({
  key: "g", x0: 373.3, x1: 562.3, y0: 569.3, y1: 728.3, xd: [0, 0.6], yd: [-11.45, 10],
  xt: [0, 0.2, 0.4, 0.6], yt: [-10, -5, 0, 5, 10], pts: gPoints, color: greyPt,
  fit: gFit, conf: gConf, pred: gPred, ylab: "SHAP value for elevation_cv", xlab: "Elevation_cv", ylx: 339,
  xf: d => d === 0 ? "0" : d3.format(".1f")(d)
});
panelLabel("h", 580, 562);
dependencePanel({
  key: "h", x0: 618.3, x1: 808.3, y0: 567.7, y1: 728.3, xd: [333, 4197], yd: [-8.9, 10.5],
  xt: [1000, 2000, 3000, 4000], yt: [-5, 0, 5, 10], pts: hPoints, cols: hColumns, color: greenPt,
  fit: hFit, conf: hConf, pred: hPred, ylab: "SHAP value for NSR", xlab: "NSR", ylx: 590,
  xf: d3.format(",")
});

// ================= caption =================
function captionColumn(lines, ends, x0) {
  lines.forEach((segs, i) => {
    const t = svg.append("text").attr("x", x0).attr("y", 786.5 + i * 16.97)
      .style("font-family", '"Liberation Sans Narrow", "Liberation Sans", Arial, sans-serif')
      .style("font-size", "11.6px").style("fill", "#1a1a1a")
      .attr("textLength", ends[i] - x0).attr("lengthAdjust", "spacingAndGlyphs");
    let shifted = false;
    segs.forEach(s => {
      const ts = t.append("tspan").text(s.t);
      if (s.b) ts.style("font-weight", "bold");
      if (s.i) ts.style("font-style", "italic");
      if (s.c) ts.style("fill", s.c);
      if (s.s && !shifted) { ts.attr("dy", 2.5).style("font-size", "7.5px"); shifted = true; }
      else if (s.s) { ts.style("font-size", "7.5px"); }
      else if (shifted) { ts.attr("dy", -2.5); shifted = false; }
    });
  });
}
captionColumn(captionLeft, captionLeftEnd, 4);
captionColumn(captionRight, captionRightEnd, 458);
</script>
</body>
</html>
